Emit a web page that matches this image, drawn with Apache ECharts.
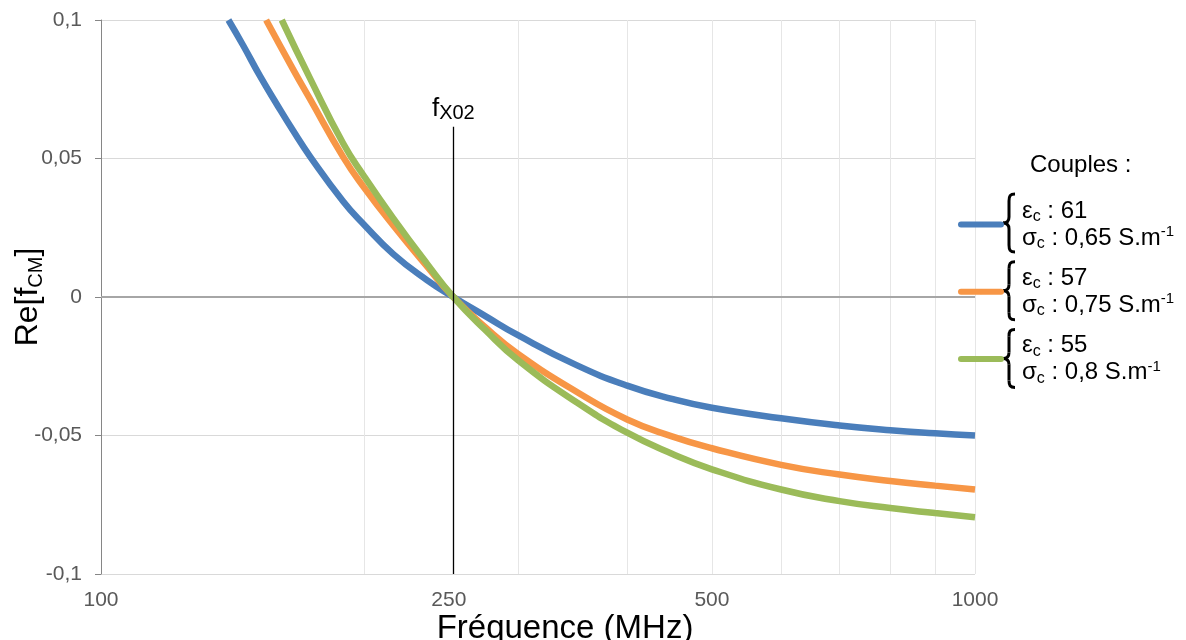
<!DOCTYPE html>
<html>
<head>
<meta charset="utf-8">
<script src="https://cdn.jsdelivr.net/npm/echarts@6/dist/echarts.min.js"></script>
<style>
html,body{margin:0;padding:0;background:#fff;}
#chart{width:1186px;height:640px;}
</style>
</head>
<body>
<div id="chart"></div>
<script>
// ---- Data ----
const xTickLabels = [100, 250, 500, 1000];
const xGridValues = [200, 300, 400, 500, 600, 700, 800, 900, 1000];
const yTicks = [-0.1, -0.05, 0, 0.05, 0.1];

const blueFreq = [139.9, 145.5, 152, 158.9, 166, 173.4, 189.3, 200, 216, 235.8, 253, 275, 300, 350, 400, 450, 500, 600, 700, 800, 900, 1000];
const blueVal  = [0.1, 0.0907, 0.0798, 0.0696, 0.0599, 0.0508, 0.0345, 0.0261, 0.0155, 0.0062, 0, -0.0068, -0.0138, -0.0246, -0.0320, -0.0368, -0.0400, -0.0438, -0.0464, -0.0481, -0.0492, -0.0500];

const orangeFreq = [154.5, 166, 173.4, 189.3, 200, 216, 235.8, 253, 275, 300, 350, 400, 450, 500, 600, 700, 800, 900, 1000];
const orangeVal  = [0.1, 0.0820, 0.0715, 0.0505, 0.0395, 0.0258, 0.0112, 0, -0.0108, -0.0205, -0.0342, -0.0442, -0.0503, -0.0546, -0.0606, -0.0641, -0.0664, -0.0681, -0.0695];

const greenFreq = [161, 173.4, 189.3, 200, 216, 235.8, 253, 275, 300, 350, 400, 450, 500, 600, 700, 800, 900, 1000];
const greenVal  = [0.1, 0.0790, 0.0554, 0.0436, 0.0284, 0.0122, 0, -0.0118, -0.0228, -0.0380, -0.0490, -0.0566, -0.0622, -0.0695, -0.0737, -0.0762, -0.0780, -0.0795];

const epsValues = ['61', '57', '55'];
const sigmaValues = ['0,65', '0,75', '0,8'];
const seriesColors = ['#4A7EBB', '#F79646', '#9BBB59'];

const fX02 = 253;          // crossing frequency marker
const fX02Top = 0.0615;    // top of the marker line

const FONT = '"Liberation Sans", Arial, sans-serif';

function pairs(xs, ys) { return xs.map((x, i) => [x, ys[i]]); }
const seriesFreqs = [blueFreq, orangeFreq, greenFreq];
const seriesVals = [blueVal, orangeVal, greenVal];
const seriesNames = epsValues.map((e, i) => 'eps' + e + '_sigma' + sigmaValues[i]);

const chart = echarts.init(document.getElementById('chart'), null, {renderer: 'canvas'});

const series = seriesNames.map((name, i) => ({
  name: name,
  type: 'line',
  data: pairs(seriesFreqs[i], seriesVals[i]),
  smooth: 0.5,
  symbol: 'none',
  z: 3,
  lineStyle: {color: seriesColors[i], width: 6.5},
  itemStyle: {color: seriesColors[i]}
}));

// gridlines / zero line (under curves)
series.push({
  type: 'line', data: [], z: 1, silent: true,
  markLine: {
    silent: true, symbol: 'none', z: 1, animation: false,
    label: {show: false},
    data: xGridValues.map(v => ({xAxis: v, lineStyle: {color: '#e6e6e6', width: 1, type: 'solid'}}))
      .concat([{yAxis: 0, lineStyle: {color: '#a6a6a6', width: 2, type: 'solid'}}])
  }
});
// f_X02 marker
series.push({
  type: 'line', data: [], z: 4, silent: true,
  markLine: {
    silent: true, symbol: 'none', z: 6, animation: false,
    lineStyle: {color: '#000', width: 1.3, type: 'solid'},
    label: {
      show: true, position: 'end', distance: 3,
      formatter: '{f|f}{s|X02}',
      rich: {
        f: {fontFamily: FONT, fontSize: 26, lineHeight: 30, color: '#000'},
        s: {fontFamily: FONT, fontSize: 20, lineHeight: 20, verticalAlign: 'bottom', color: '#000'}
      }
    },
    data: [[{coord: [fX02, yTicks[0]]}, {coord: [fX02, fX02Top]}]]
  }
});

// braces beside legend entries
const braceStyle = {stroke: '#000', lineWidth: 3, fill: null};
function brace(i) {
  return {
    type: 'group', x: 1003, y: 194 + i * 67.7, z: 10,
    children: [
      {type: 'bezierCurve', shape: {x1: 12, y1: 0, cpx1: 7, cpy1: 0, cpx2: 6, cpy2: 2, x2: 6, y2: 7}, style: braceStyle},
      {type: 'line', shape: {x1: 6, y1: 7, x2: 6, y2: 23}, style: braceStyle},
      {type: 'bezierCurve', shape: {x1: 6, y1: 23, cpx1: 6, cpy1: 27, cpx2: 4, cpy2: 29, x2: 0, y2: 29}, style: braceStyle},
      {type: 'bezierCurve', shape: {x1: 0, y1: 29, cpx1: 4, cpy1: 29, cpx2: 6, cpy2: 31, x2: 6, y2: 35}, style: braceStyle},
      {type: 'line', shape: {x1: 6, y1: 35, x2: 6, y2: 51}, style: braceStyle},
      {type: 'bezierCurve', shape: {x1: 6, y1: 51, cpx1: 6, cpy1: 56, cpx2: 7, cpy2: 58, x2: 12, y2: 58}, style: braceStyle}
    ]
  };
}
const braceGraphics = seriesNames.map((n, i) => brace(i));

const option = {
  animation: false,
  backgroundColor: '#fff',
  title: {
    text: 'Couples :', left: 1030, top: 151, padding: 0,
    textStyle: {fontFamily: FONT, fontSize: 24, fontWeight: 'normal', color: '#000', lineHeight: 28}
  },
  grid: {left: 101, right: 211, top: 20, bottom: 66, containLabel: false, outerBoundsMode: 'none'},
  legend: {
    orient: 'vertical', left: 958, top: 199, padding: 0,
    itemWidth: 40, itemHeight: 6, itemGap: 14.8,
    data: seriesNames,
    lineStyle: {width: 6, cap: 'round'},
    formatter: function (name) {
      const i = seriesNames.indexOf(name);
      return '{t|ε}{sub|c}{t| : ' + epsValues[i] + '}\n{t|σ}{sub|c}{t| : ' + sigmaValues[i] + ' S.m}{sup|-1}';
    },
    textStyle: {
      padding: [0, 0, 0, 16],
      rich: {
        t: {fontFamily: FONT, fontSize: 24, lineHeight: 27, color: '#000'},
        sub: {fontFamily: FONT, fontSize: 16, lineHeight: 14, verticalAlign: 'bottom', color: '#000'},
        sup: {fontFamily: FONT, fontSize: 15, lineHeight: 14, verticalAlign: 'top', color: '#000'}
      }
    }
  },
  xAxis: {
    type: 'log', logBase: 10, min: 100, max: 1000,
    name: 'Fréquence (MHz)', nameLocation: 'middle', nameGap: 37, nameMoveOverlap: false,
    nameTextStyle: {fontFamily: FONT, fontSize: 33, color: '#000', padding: [0, 0, 0, 54], lineHeight: 36},
    axisLine: {show: false},
    axisTick: {show: false},
    splitLine: {show: false},
    minorTick: {show: false},
    axisLabel: {
      customValues: xTickLabels,
      fontFamily: FONT, fontSize: 21, color: '#595959', margin: 16,
      formatter: v => String(Math.round(v))
    }
  },
  yAxis: {
    type: 'value', min: yTicks[0], max: yTicks[yTicks.length - 1], interval: 0.05,
    name: '{a|Re[f}{s|CM}{a|]}', nameLocation: 'middle', nameGap: 55, nameRotate: 90, nameMoveOverlap: false,
    nameTextStyle: {
      fontFamily: FONT, fontSize: 32, color: '#000',
      rich: {
        a: {fontFamily: FONT, fontSize: 32, lineHeight: 36, color: '#000'},
        s: {fontFamily: FONT, fontSize: 20, lineHeight: 20, verticalAlign: 'bottom', color: '#000'}
      }
    },
    axisLine: {show: true, onZero: false, lineStyle: {color: '#868686', width: 1}},
    axisTick: {show: true, length: 6, lineStyle: {color: '#868686'}},
    splitLine: {show: true, lineStyle: {color: '#d9d9d9', width: 1}},
    axisLabel: {
      fontFamily: FONT, fontSize: 21, color: '#595959', margin: 19,
      formatter: v => (Math.abs(v) < 1e-9 ? '0' : String(Math.round(v * 100) / 100).replace('.', ','))
    }
  },
  graphic: braceGraphics,
  series: series
};

chart.setOption(option);
</script>
</body>
</html>
